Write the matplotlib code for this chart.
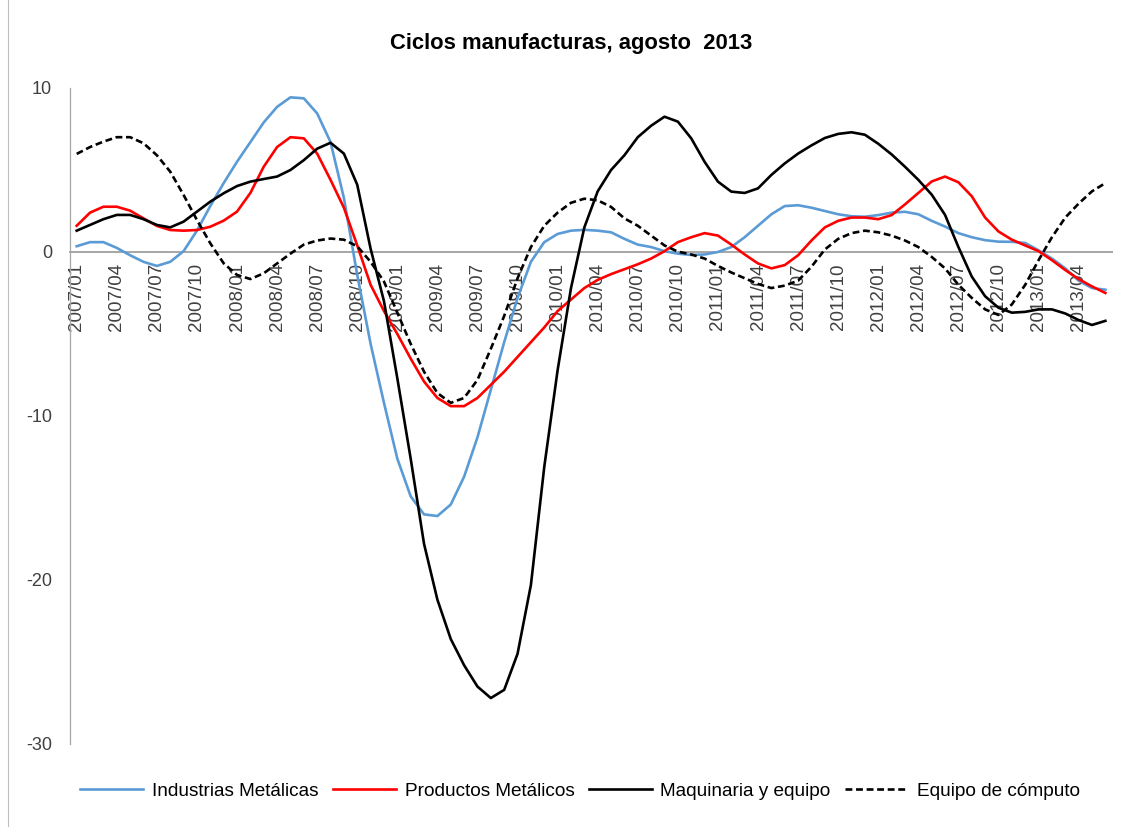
import matplotlib
matplotlib.use("Agg")
import matplotlib.pyplot as plt
from matplotlib.lines import Line2D

# ── data ──────────────────────────────────────────────────────────────────────
months = [f"{y}/{m:02d}" for y in range(2007, 2014) for m in range(1, 13)][:78]

industrias = [
    0.35, 0.6, 0.6, 0.25, -0.2, -0.6, -0.85, -0.6, 0.05, 1.3,
    2.8, 4.2, 5.5, 6.7, 7.9, 8.85, 9.43, 9.37, 8.45, 6.7,
    3.3, -1.4, -5.6, -9.2, -12.6, -14.9, -16.0, -16.1, -15.4, -13.7,
    -11.3, -8.4, -5.5, -2.8, -0.6, 0.6, 1.1, 1.3, 1.35, 1.3,
    1.2, 0.8, 0.45, 0.3, 0.05, -0.1, -0.18, -0.15, 0.0, 0.3,
    0.9, 1.6, 2.3, 2.8, 2.85, 2.7, 2.5, 2.3, 2.18, 2.15,
    2.25, 2.4, 2.45, 2.3, 1.9, 1.55, 1.15, 0.9, 0.72, 0.63,
    0.62, 0.55, 0.1, -0.4, -1.0, -1.75, -2.2, -2.3,
]
productos = [
    1.6, 2.4, 2.76, 2.76, 2.52, 2.05, 1.59, 1.34, 1.3, 1.34,
    1.54, 1.91, 2.46, 3.6, 5.2, 6.4, 7.0, 6.93, 6.0, 4.4,
    2.7, 0.4, -2.0, -3.6, -5.0, -6.5, -7.9, -8.9, -9.4, -9.4,
    -8.9, -8.1, -7.3, -6.4, -5.5, -4.6, -3.6, -2.9, -2.2, -1.7,
    -1.35, -1.05, -0.75, -0.4, 0.05, 0.6, 0.9, 1.15, 1.0, 0.45,
    -0.15, -0.7, -1.0, -0.8, -0.2, 0.7, 1.5, 1.9, 2.1, 2.1,
    2.0, 2.25, 2.9, 3.6, 4.3, 4.6, 4.25, 3.4, 2.1, 1.25,
    0.75, 0.4, 0.05, -0.5, -1.1, -1.65, -2.1, -2.5,
]
maquinaria = [
    1.3, 1.65, 2.0, 2.26, 2.26, 2.0, 1.65, 1.5, 1.85, 2.46,
    3.07, 3.58, 4.02, 4.29, 4.45, 4.6, 5.0, 5.6, 6.3, 6.66,
    6.0, 4.1, 0.2, -3.0, -7.7, -12.6, -17.8, -21.2, -23.6, -25.2,
    -26.5, -27.2, -26.7, -24.5, -20.3, -13.1, -7.2, -2.2, 1.5, 3.7,
    5.0, 5.9, 7.0, 7.7, 8.25, 7.95, 6.93, 5.5, 4.29, 3.68,
    3.6, 3.88, 4.7, 5.4, 6.0, 6.5, 6.95, 7.2, 7.3, 7.15,
    6.6, 5.95, 5.2, 4.4, 3.5, 2.26, 0.3, -1.5, -2.7, -3.4,
    -3.7, -3.65, -3.5, -3.5, -3.75, -4.15, -4.45, -4.2,
]
computo = [
    5.98, 6.4, 6.73, 7.0, 7.0, 6.63, 5.9, 4.9, 3.48, 1.95,
    0.53, -0.69, -1.4, -1.65, -1.3, -0.7, -0.1, 0.45, 0.7, 0.82,
    0.75, 0.35, -0.6, -1.8, -3.7, -5.6, -7.3, -8.6, -9.2, -8.9,
    -7.8, -5.9, -3.9, -1.6, 0.3, 1.6, 2.4, 3.0, 3.25, 3.15,
    2.75, 2.05, 1.6, 1.0, 0.4, 0.02, -0.15, -0.4, -0.85, -1.25,
    -1.6, -1.95, -2.2, -2.05, -1.75, -0.9, 0.15, 0.8, 1.15, 1.3,
    1.2, 1.0, 0.7, 0.3, -0.3, -1.0, -2.0, -2.8, -3.5, -3.84,
    -3.2, -2.0, -0.5, 0.9, 2.1, 2.95, 3.7, 4.2,
]

series_names = ["Industrias Metálicas", "Productos Metálicos",
                "Maquinaria y equipo", "Equipo de cómputo"]

# ── style ─────────────────────────────────────────────────────────────────────
C_BLUE = "#5B9BD5"
C_RED = "#FF0000"
C_BLACK = "#000000"
C_AXIS = "#A6A6A6"
FONT = "Liberation Sans"
plt.rcParams["font.family"] = [FONT, "DejaVu Sans"]

fig = plt.figure(figsize=(11.33, 8.27), dpi=100)
fig.patch.set_facecolor("white")
ax = fig.add_axes([0.0618, 0.1004, 0.9197, 0.7932])

x = list(range(len(months)))
lw = 1.9
dash = (0, (2.6, 1.4))
ax.plot(x, industrias, color=C_BLUE, lw=lw, zorder=3)
ax.plot(x, productos, color=C_RED, lw=lw, zorder=3)
ax.plot(x, maquinaria, color=C_BLACK, lw=lw, zorder=3)
ax.plot(x, computo, color=C_BLACK, lw=lw, ls=dash, zorder=3)

ax.set_xlim(-0.5, len(months) - 0.5)
ax.set_ylim(-30, 10)

# axes: left spine + zero line carrying the category labels
for s in ("top", "right"):
    ax.spines[s].set_visible(False)
ax.spines["left"].set_color(C_AXIS)
ax.spines["left"].set_linewidth(0.9)
ax.spines["bottom"].set_position(("data", 0))
ax.spines["bottom"].set_color(C_AXIS)
ax.spines["bottom"].set_linewidth(1.4)

ax.set_xticks(x[::3])
ax.set_xticklabels(months[::3], rotation=90, fontsize=13.5, color="#404040")
ax.tick_params(axis="x", length=0, pad=8)
ax.set_yticks([10, 0, -10, -20, -30])
ax.set_yticklabels(["10", "0", "-10", "-20", "-30"], fontsize=13, color="#404040")
ax.tick_params(axis="y", length=0, pad=13)

# ── title ─────────────────────────────────────────────────────────────────────
fig.text(0.504, 0.948, "Ciclos manufacturas, agosto  2013",
         ha="center", va="center", fontsize=15.8, fontweight="bold")

# ── legend ────────────────────────────────────────────────────────────────────
handles = [
    Line2D([], [], color=C_BLUE, lw=lw),
    Line2D([], [], color=C_RED, lw=lw),
    Line2D([], [], color=C_BLACK, lw=lw),
    Line2D([], [], color=C_BLACK, lw=lw, ls=dash),
]
fig.legend(handles, series_names, loc="center", bbox_to_anchor=(0.512, 0.0435),
           ncol=4, frameon=False, fontsize=13.7, handlelength=3.3,
           handletextpad=0.47, columnspacing=0.75)

# chart border (left edge visible in the reference)
fig.add_artist(Line2D([0.007, 0.007], [0, 1], color="#BFBFBF", lw=0.8,
                      transform=fig.transFigure))

fig.savefig("out.png", dpi=100, facecolor="white")
